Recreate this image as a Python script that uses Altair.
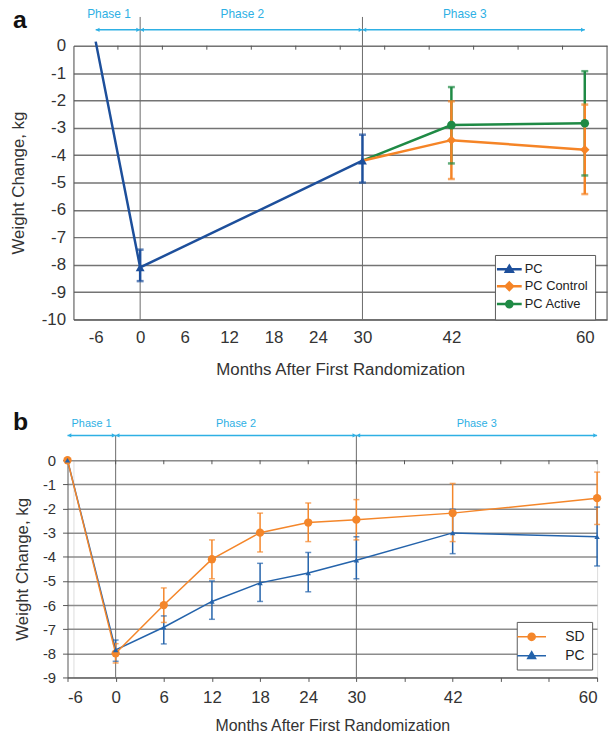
import altair as alt
import pandas as pd

FONT = "Liberation Sans"
CYAN = "#2eb0e4"
GRID_A = "#747474"
GRID_B = "#8c8c8c"
AXIS_C = "#555555"
TEXT_C = "#333333"

# ---------------- Panel a data ----------------
A_SERIES = ["PC", "PC Control", "PC Active"]
A_COLORS = ["#1d4f9b", "#f58426", "#1f8a45"]
A_SHAPES = ["triangle-up", "diamond", "circle"]
A_PC_MONTHS = [-6, 0, 30]
A_PC_VALUES = [0.15, -8.1, -4.2]
A_PC_LOW = [None, -8.6, -5.0]
A_PC_HIGH = [None, -7.45, -3.25]
A_PC_MARKER = [False, True, True]
A_P3_MONTHS = [30, 42, 60]
A_CTRL_VALUES = [-4.2, -3.45, -3.8]
A_CTRL_LOW = [None, -4.87, -5.42]
A_CTRL_HIGH = [None, -2.03, -2.15]
A_ACT_VALUES = [-4.2, -2.9, -2.83]
A_ACT_LOW = [None, -4.3, -4.74]
A_ACT_HIGH = [None, -1.51, -0.93]
A_P3_MARKER = [False, True, True]
A_X_LABELS = [-6, 0, 6, 12, 18, 24, 30, 42, 60]
A_X_MINOR = [-3, 3, 9, 15, 21, 27, 33, 39, 45, 51, 57]
A_Y_TICKS = [-10, -9, -8, -7, -6, -5, -4, -3, -2, -1, 0]

# ---------------- Panel b data ----------------
B_SERIES = ["SD", "PC"]
B_COLORS = ["#f4862a", "#2463ab"]
B_SHAPES = ["circle", "triangle-up"]
B_MONTHS = [-6, 0, 6, 12, 18, 24, 30, 42, 60]
B_SD_VALUES = [0, -8.0, -6.0, -4.1, -3.0, -2.58, -2.46, -2.19, -1.57]
B_SD_LOW = [None, -8.4, -6.72, -4.91, -3.8, -3.37, -3.3, -3.37, -2.66]
B_SD_HIGH = [None, -7.6, -5.29, -3.3, -2.19, -1.77, -1.63, -0.96, -0.49]
B_PC_VALUES = [0, -7.86, -6.92, -5.85, -5.08, -4.67, -4.14, -3.01, -3.17]
B_PC_LOW = [None, -8.33, -7.61, -6.59, -5.85, -5.45, -4.91, -3.87, -4.38]
B_PC_HIGH = [None, -7.45, -6.45, -5.0, -4.27, -3.82, -3.17, -2.03, -1.94]
B_X_TICKS = [-6, 0, 6, 12, 18, 24, 30, 36, 42, 48, 54, 60]
B_X_HIDDEN = [36, 48, 54]
B_Y_TICKS = [-9, -8, -7, -6, -5, -4, -3, -2, -1, 0]

PHASE_NAMES = ["Phase 1", "Phase 2", "Phase 3"]
PHASE_START = [-6, 0, 30]
PHASE_END = [0, 30, 60]
PHASE_DIVIDERS = [0, 30]

# legend symbols: line with a marker in the middle (custom paths)
LEG_TRI = "M-2,0H2M0,-0.55L0.55,0.4L-0.55,0.4Z"
LEG_DIA = "M-2,0H2M0,-0.6L0.6,0L0,0.6L-0.6,0Z"
LEG_CIR = "M-2,0H2M-0.5,0A0.5,0.5 0 1,0 0.5,0A0.5,0.5 0 1,0 -0.5,0Z"


def rows(series, months, values, low, high, marker):
    return pd.DataFrame({
        "series": series, "month": months, "value": values,
        "low": low, "high": high, "marker": marker,
    })


a_df = pd.concat([
    rows("PC Active", A_P3_MONTHS, A_ACT_VALUES, A_ACT_LOW, A_ACT_HIGH, A_P3_MARKER),
    rows("PC Control", A_P3_MONTHS, A_CTRL_VALUES, A_CTRL_LOW, A_CTRL_HIGH, A_P3_MARKER),
    rows("PC", A_PC_MONTHS, A_PC_VALUES, A_PC_LOW, A_PC_HIGH, A_PC_MARKER),
], ignore_index=True)

b_df = pd.concat([
    rows("PC", B_MONTHS, B_PC_VALUES, B_PC_LOW, B_PC_HIGH, [True] * len(B_MONTHS)),
    rows("SD", B_MONTHS, B_SD_VALUES, B_SD_LOW, B_SD_HIGH, [True] * len(B_MONTHS)),
], ignore_index=True)

phase_df = pd.DataFrame({"name": PHASE_NAMES, "start": PHASE_START, "end": PHASE_END})
phase_df["mid"] = (phase_df["start"] + phase_df["end"]) / 2
div_df = pd.DataFrame({"month": PHASE_DIVIDERS})


def panel(df, series, colors, shapes, leg_paths, xscale, xaxis, ydomain, yaxis,
          W, H, style, letter, leg):
    xs = xscale
    ys = alt.Scale(domain=ydomain, nice=False, zero=False)

    def X(f):
        return alt.X(f, scale=xs, axis=xaxis)

    def Y(f):
        return alt.Y(f, scale=ys, axis=yaxis)

    # series colour for the plotted marks (domain listed in reverse order so that
    # this legend-less scale never merges with the legend scales below)
    color = alt.Color("series:N",
                      scale=alt.Scale(domain=series[::-1], range=colors[::-1]),
                      legend=None)
    base = alt.Chart(df)
    eb = base.transform_filter("datum.low != null")

    errs = eb.mark_rule(strokeWidth=style["ebw"]).encode(
        x=X("month:Q"), y=Y("low:Q"), y2="high:Q", color=color)
    cap_lo = eb.mark_tick(orient="horizontal", size=style["cap"],
                          thickness=style["ebw"]).encode(
        x=X("month:Q"), y=Y("low:Q"), color=color)
    cap_hi = eb.mark_tick(orient="horizontal", size=style["cap"],
                          thickness=style["ebw"]).encode(
        x=X("month:Q"), y=Y("high:Q"), color=color)
    lines = base.mark_line(strokeWidth=style["lw"]).encode(
        x=X("month:Q"), y=Y("value:Q"), color=color, detail="series:N")

    pts = []
    for name, shp, sz in zip(series, shapes, style["sizes"]):
        pts.append(base.transform_filter(
            f"datum.marker && datum.series == '{name}'").mark_point(
            filled=True, opacity=1, shape=shp, size=sz).encode(
            x=X("month:Q"), y=Y("value:Q"), color=color))

    legend = alt.Legend(
        title=None, orient="none", legendX=leg["x"], legendY=leg["y"],
        strokeColor="#5a5a5a", fillColor="white", padding=leg["pad"],
        labelFont=FONT, labelFontSize=leg["fs"], labelColor="#222222",
        symbolSize=leg["size"], symbolStrokeWidth=leg["sw"], labelOffset=leg["off"],
        rowPadding=leg["rp"], symbolOpacity=1,
    )
    # zero-size marks: this layer only carries the legend
    leg_layer = base.mark_point(filled=True, opacity=1, size=0).encode(
        x=X("month:Q"), y=Y("value:Q"),
        fill=alt.Fill("series:N", scale=alt.Scale(domain=series, range=colors), legend=legend),
        stroke=alt.Stroke("series:N", scale=alt.Scale(domain=series, range=colors), legend=legend),
        shape=alt.Shape("series:N", scale=alt.Scale(domain=series, range=leg_paths), legend=legend),
    )

    pc = alt.Chart(phase_df)
    ph_rule = pc.mark_rule(color=CYAN, strokeWidth=1.5).encode(
        x=X("start:Q"), x2="end:Q", y=alt.value(style["arrow_y"]))
    ph_left = pc.mark_point(
        shape="triangle-left", filled=True, size=18, color=CYAN, opacity=1, xOffset=2).encode(
        x=X("start:Q"), y=alt.value(style["arrow_y"]))
    ph_right = pc.mark_point(
        shape="triangle-right", filled=True, size=18, color=CYAN, opacity=1, xOffset=-2).encode(
        x=X("end:Q"), y=alt.value(style["arrow_y"]))
    ph_text = pc.mark_text(
        font=FONT, fontSize=style["phase_fs"], color=CYAN, dx=style["phase_dx"],
        baseline="middle").encode(
        x=X("mid:Q"), y=alt.value(style["phase_y"]), text="name:N")
    dividers = alt.Chart(div_df).mark_rule(color="#6a6a6a", strokeWidth=1).encode(
        x=X("month:Q"), y=alt.value(style["div_top"]), y2=alt.value(H))
    minor = alt.Chart(pd.DataFrame({"month": style["minor"]})).mark_rule(
        color=AXIS_C, strokeWidth=1).encode(
        x=X("month:Q"), y=alt.value(0), y2=alt.value(4))
    letter_t = alt.Chart(pd.DataFrame({"t": [letter]})).mark_text(
        font=FONT, fontSize=25, fontWeight="bold", align="left", baseline="middle",
        color="#111111").encode(
        x=alt.value(style["letter_x"]), y=alt.value(style["letter_y"]), text="t:N")

    layers = [dividers, minor, ph_rule, ph_left, ph_right, ph_text, letter_t,
              errs, cap_lo, cap_hi, lines] + pts + [leg_layer]
    if style.get("border"):
        layers.insert(0, alt.Chart(pd.DataFrame({"t": [0]})).mark_rule(
            color=AXIS_C, strokeWidth=1).encode(
            x=alt.value(W), y=alt.value(0), y2=alt.value(H)))
    return alt.layer(*layers).properties(width=W, height=H)


label_expr_a = "datum.value + ''"
label_expr_b = "indexof([" + ",".join(str(v) for v in B_X_HIDDEN) + "], datum.value) >= 0 ? '' : datum.value + ''"

a_xaxis = alt.Axis(values=A_X_LABELS, grid=False, ticks=False, domainColor=AXIS_C,
                   labelExpr=label_expr_a, labelFontSize=17, labelPadding=10,
                   labelColor=TEXT_C, labelOverlap=False,
                   title="Months After First Randomization",
                   titleFontSize=17, titleFontWeight="normal", titleColor=TEXT_C,
                   titlePadding=17, labelFont=FONT, titleFont=FONT)
a_yaxis = alt.Axis(values=A_Y_TICKS, grid=True, gridColor=GRID_A, gridWidth=1.5,
                   ticks=False, domainColor=AXIS_C, labelExpr=label_expr_a,
                   labelFontSize=17, labelPadding=8, labelColor=TEXT_C, labelOverlap=False,
                   title="Weight Change, kg", titleFontSize=17, titleFontWeight="normal",
                   titleColor=TEXT_C, titlePadding=14, labelFont=FONT, titleFont=FONT)

b_xaxis = alt.Axis(values=B_X_TICKS, grid=False, ticks=True, tickSize=4, tickColor=AXIS_C,
                   domainColor=AXIS_C, labelExpr=label_expr_b, labelFontSize=17,
                   labelPadding=8, labelColor=TEXT_C, labelOverlap=False,
                   title="Months After First Randomization", titleFontSize=16,
                   titleFontWeight="normal", titleColor=TEXT_C, titlePadding=12,
                   labelFont=FONT, titleFont=FONT)
# panel b's plot starts 6px left of panel a's: the x range begins at -6 px and the
# y axis is offset by the same amount
B_SHIFT = 6
b_yaxis = alt.Axis(values=B_Y_TICKS, grid=True, gridColor=GRID_B, gridWidth=1.5,
                   ticks=True, tickSize=5, tickColor=AXIS_C, domainColor=AXIS_C,
                   labelExpr=label_expr_a, labelFontSize=15, labelPadding=7,
                   labelColor=TEXT_C, labelOverlap=False, offset=B_SHIFT,
                   title="Weight Change, kg", titleFontSize=17,
                   titleFontWeight="normal", titleColor=TEXT_C, titlePadding=11,
                   labelFont=FONT, titleFont=FONT)

WA, HA = 538, 276
WB, HB = 528, 219

panel_a = panel(
    a_df, A_SERIES, A_COLORS, A_SHAPES, [LEG_TRI, LEG_DIA, LEG_CIR],
    alt.Scale(domain=[-9, 63], nice=False, zero=False), a_xaxis,
    [-10, 0], a_yaxis, WA, HA,
    dict(ebw=2.5, cap=7, lw=2.5, sizes=[80, 90, 75], arrow_y=-16, phase_y=-32,
         phase_fs=12, phase_dx=-9, div_top=-29, minor=A_X_MINOR,
         letter_x=-61, letter_y=-26, border=True),
    "a",
    dict(x=425, y=211, pad=7, fs=13, size=156, sw=2.5, off=8, rp=0),
)

panel_b = panel(
    b_df, B_SERIES, B_COLORS, B_SHAPES, [LEG_CIR, LEG_TRI],
    alt.Scale(domain=[-6, 60], range=[-B_SHIFT, WB], nice=False, zero=False), b_xaxis,
    [-9, 0], b_yaxis, WB, HB,
    dict(ebw=1.5, cap=6, lw=1.5, sizes=[70, 30], arrow_y=-25, phase_y=-37,
         phase_fs=11, phase_dx=0, div_top=-25, minor=B_X_TICKS[1:],
         letter_x=-61, letter_y=-39, border=False),
    "b",
    dict(x=447, y=163, pad=7, fs=14, size=210, sw=1.5, off=26, rp=4),
)

chart = alt.concat(panel_a, panel_b, columns=1, spacing=30, align="none").resolve_scale(
    color="independent", fill="independent", stroke="independent",
    shape="independent",
).resolve_legend(
    fill="independent", stroke="independent", shape="independent",
).properties(
    padding={"left": 0, "top": -4, "right": 0, "bottom": 0},
).configure_view(stroke=None).configure(font=FONT, background="white")

chart.save("out.html", embed_options={"renderer": "svg", "actions": False})
